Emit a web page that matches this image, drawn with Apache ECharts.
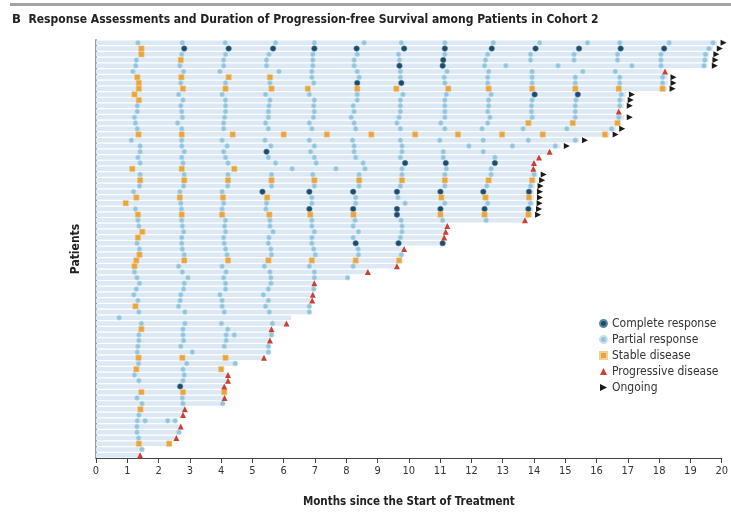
<!DOCTYPE html>
<html>
<head>
<meta charset="utf-8">
<script src="https://cdn.jsdelivr.net/npm/echarts@6/dist/echarts.min.js"></script>
<style>
html,body{margin:0;padding:0;background:#fff;overflow:hidden;}
#chart{width:731px;height:513px;}
</style>
</head>
<body>
<div id="chart"></div>
<script>
// ---------- DATA ----------
const xTicks = [0,1,2,3,4,5,6,7,8,9,10,11,12,13,14,15,16,17,18,19,20];
const patients = Array.from({length:73}, (_, i) => 'P' + (i + 1));

// duration of progression-free survival (months), one per patient, top to bottom
const barEnd = [19.85,19.72,19.6,19.58,19.55,18.19,18.28,18.28,18.25,16.95,
  16.9,16.88,16.71,16.88,16.72,16.62,16.42,15.45,14.85,14.5,
  14.16,14.0,13.98,14.12,14.08,14.03,14.0,14.0,14.0,13.98,
  13.95,13.71,11.23,11.18,11.13,11.1,9.85,9.78,9.72,9.62,
  8.69,8.04,6.98,6.98,6.93,6.91,6.84,6.84,6.24,6.09,
  5.61,5.61,5.56,5.53,5.53,5.37,4.45,4.02,4.22,4.22,
  4.10,4.12,4.11,4.07,2.84,2.78,2.54,2.71,2.68,2.57,
  2.36,1.49,1.41];

// [patient row, [months of assessment]]
const completeResponse = [
  [1,[2.82,4.24,5.66,6.98,8.33,9.85,11.15,12.65,14.05,15.44,16.77,18.16]],
  [3,[11.10]],[4,[9.70,11.08]],[7,[8.35,9.76]],[9,[14.02,15.40]],[19,[5.45]],
  [21,[9.88,11.18,12.75]],[26,[5.32,6.82,8.22,9.62,11.01,12.38,13.84]],
  [29,[6.82,8.22,9.62,11.01,12.42,13.82]],[30,[9.62]],[35,[8.30,9.67,11.08]],[60,[2.69]]
];
const partialResponse = [
  [0,[1.34,2.76,4.13,5.74,6.98,8.57,9.76,11.15,12.70,14.18,15.71,16.74,18.32,19.72]],
  [1,[19.59]],
  [2,[2.74,4.14,5.53,6.93,8.35,9.67,11.15,12.52,13.89,15.28,16.67,18.06,19.48]],
  [3,[1.29,4.08,5.45,6.93,8.25,9.70,12.45,13.89,15.28,16.67,18.06,19.46]],
  [4,[1.27,2.68,4.08,5.45,6.93,8.25,12.42,13.10,14.77,17.13,18.06,19.43]],
  [5,[1.18,2.80,3.96,5.85,6.90,8.35,9.73,11.22,12.55,13.94,15.56,16.60]],
  [6,[6.90,8.41,9.73,11.13,12.52,13.94,15.32,16.74,18.11]],
  [7,[2.71,4.14,5.56,6.96,11.15,12.52,13.94,15.32,16.74,18.11]],
  [9,[2.64,4.03,5.42,6.82,8.35,9.81,11.20,12.63,16.79]],
  [10,[2.78,4.14,5.56,6.98,8.35,9.73,11.15,12.55,13.94,15.34,16.74]],
  [11,[1.32,2.71,4.14,5.53,6.96,8.22,9.73,11.15,12.55,13.92,15.32,16.74]],
  [12,[1.32,2.74,4.14,5.51,6.98,8.25,9.73,11.15,12.52,13.92,15.32]],
  [13,[1.23,2.76,4.11,5.51,6.95,8.16,9.69,11.15,12.59,13.94,15.32,16.71]],
  [14,[1.26,2.61,4.08,5.42,6.82,8.25,9.62,11.02,12.52]],
  [15,[1.32,2.74,4.08,5.51,6.90,8.30,9.73,11.15,12.34,13.65,15.05,16.48]],
  [17,[1.13,2.74,4.03,5.40,6.82,8.20,9.73,10.99,12.38,13.82,15.32]],
  [18,[1.41,2.74,4.19,5.59,6.98,8.25,9.78,11.92,13.31,14.68]],
  [19,[1.41,2.82,4.08,6.86,8.25,9.78,11.10,12.38]],
  [20,[1.34,2.74,4.14,5.51,6.98,8.30,9.73,11.10,12.75]],
  [21,[1.41,2.78,4.22,5.74,7.04,8.54]],
  [22,[6.27,7.67,8.60,9.78,11.20,12.63]],
  [23,[1.41,2.82,4.22,5.61,6.93,8.41,9.78,11.15,12.63,14.00]],
  [25,[1.39,2.80,4.21,5.61,6.98,8.41,9.73,11.15,12.49,13.89]],
  [26,[1.20,2.68,4.03]],
  [27,[6.90,8.30,9.65]],
  [28,[2.71,4.08,5.45,6.90,8.30,9.88,11.15,12.52,13.89]],
  [29,[1.26,2.73,4.03,5.43]],
  [31,[1.34,2.74,4.14,5.56,6.90,8.28,9.75,11.08,12.47]],
  [32,[1.37,2.76,4.11,5.56,6.90,8.22,9.78]],
  [33,[2.80,4.14,5.66,6.98,8.39,9.78]],
  [34,[2.74,4.08,5.53,6.90,8.22,9.73]],
  [35,[1.31,2.74,4.10,5.51,6.90]],
  [36,[1.39,2.76,4.14,5.59,6.96,8.38]],
  [37,[2.82,4.19,5.61,7.01,8.39,9.76]],
  [39,[2.64,4.03,5.38,6.82,8.22]],
  [40,[1.23,2.76,4.16,5.56,6.98]],
  [41,[1.31,2.94,4.08,5.59,6.98,8.04]],
  [42,[1.39,2.82,4.14,5.59]],
  [43,[1.29,2.80,4.14,5.51,6.96]],
  [44,[1.21,2.71,3.96,5.35]],
  [45,[1.34,2.69,4.03,5.51]],
  [46,[2.64,4.03,5.42,6.82]],
  [47,[1.37,2.84,4.10,5.54,6.82]],
  [48,[0.74]],
  [49,[1.45,2.84,4.01,5.64]],
  [50,[2.78,4.21]],
  [51,[1.37,2.78,4.16,4.42,5.61]],
  [52,[1.37,2.80,4.16]],
  [53,[1.34,2.71,4.10,5.51]],
  [54,[1.32,3.08,5.51]],
  [56,[1.36,2.90,4.45]],
  [57,[2.78]],
  [58,[1.23,2.82]],
  [59,[1.37,2.78]],
  [62,[1.31,2.76]],
  [63,[1.47,2.78,4.05]],
  [65,[1.37]],
  [66,[1.32,1.57,2.29,2.53]],
  [67,[1.31]],
  [68,[1.31,2.65]],
  [69,[1.36]],
  [71,[1.47]]
];
const stableDisease = [
  [1,[1.45]],[2,[1.45]],[3,[2.71]],[6,[1.32,2.73,4.24,5.56]],[7,[1.37]],
  [8,[1.37,2.78,4.14,5.61,6.77,8.35,9.60,11.26,12.55,13.94,15.32,16.71,18.11]],
  [9,[1.23]],[10,[1.37]],[14,[13.82,15.24,16.67]],
  [16,[1.36,2.74,4.37,6.00,7.38,8.80,10.20,11.57,12.98,14.28,16.27]],
  [22,[1.16,2.74,4.42]],
  [24,[1.41,2.82,4.22,5.61,6.98,8.41,9.78,11.15,12.55,13.94]],
  [27,[1.29,2.68,4.06,5.47,11.04,12.45,13.84]],
  [28,[0.95]],
  [30,[1.34,2.74,4.03,5.54,6.85,8.23,11.01,12.42,13.82]],
  [33,[1.48]],[34,[1.34]],[37,[1.39]],
  [38,[1.29,2.82,4.22,5.51,6.90,8.30,9.69]],
  [39,[1.23]],[46,[1.26]],[50,[1.45]],[55,[1.36,2.76,4.14]],[57,[1.29,4.00]],
  [61,[1.45,2.78,4.10]],[64,[1.42]],[70,[1.37,2.34]]
];
const progressiveDisease = [
  [5,[18.19]],[12,[16.71]],[19,[14.50]],[20,[14.16]],[21,[14.00]],[22,[13.98]],
  [31,[13.71]],[32,[11.23]],[33,[11.18]],[34,[11.13]],[36,[9.85]],[39,[9.62]],
  [40,[8.69]],[42,[6.98]],[44,[6.93]],[45,[6.91]],[49,[6.09]],[50,[5.61]],
  [52,[5.56]],[55,[5.37]],[58,[4.22]],[59,[4.22]],[60,[4.10]],[62,[4.11]],
  [64,[2.84]],[65,[2.78]],[67,[2.71]],[69,[2.57]],[72,[1.41]]
];
const ongoing = [
  [0,[20.06]],[1,[19.94]],[2,[19.83]],[3,[19.80]],[4,[19.78]],[6,[18.46]],
  [7,[18.46]],[8,[18.43]],[9,[17.13]],[10,[17.09]],[11,[17.06]],[13,[17.06]],
  [15,[16.82]],[16,[16.61]],[17,[15.63]],[18,[15.05]],[23,[14.31]],[24,[14.26]],
  [25,[14.21]],[26,[14.19]],[27,[14.19]],[28,[14.18]],[29,[14.16]],[30,[14.13]]
];

// ---------- CHART ----------
function pts(list) {
  const out = [];
  list.forEach(([row, months]) => months.forEach(m => out.push([m, row])));
  return out;
}
const FONT = '"Liberation Sans Narrow","DejaVu Sans Condensed","Liberation Sans",sans-serif';
const arrowPath = 'path://M0,0 L10,5 L0,10 Z';

const chart = echarts.init(document.getElementById('chart'), null, {renderer: 'canvas', width: 731, height: 513});
chart.setOption({
  animation: false,
  backgroundColor: '#ffffff',
  graphic: [
    {type: 'rect', shape: {x: 10, y: 3, width: 721, height: 3}, style: {fill: '#a3a3a3'}},
    {type: 'text', left: 12, top: 13, style: {
      text: '{b|B}  Response Assessments and Duration of Progression-free Survival among Patients in Cohort 2',
      fontFamily: FONT, fontSize: 12, fontWeight: 'bold', fill: '#222',
      rich: {b: {fontFamily: FONT, fontSize: 13, fontWeight: 'bold', fill: '#222'}}
    }}
  ],
  legend: {
    left: 594, top: 312, orient: 'vertical',
    itemWidth: 7, itemHeight: 7, itemGap: 3,
    textStyle: {fontFamily: FONT, fontSize: 12, color: '#333', lineHeight: 13},
    data: [
      {name: 'Complete response', icon: 'circle'},
      {name: 'Partial response', icon: 'circle'},
      {name: 'Stable disease', icon: 'rect'},
      {name: 'Progressive disease', icon: 'triangle'},
      {name: 'Ongoing', icon: arrowPath}
    ]
  },
  grid: {left: 96, width: 632, top: 40, height: 429, containLabel: false},
  xAxis: {
    type: 'value', min: 0, max: 20, interval: 1,
    name: 'Months since the Start of Treatment', nameLocation: 'middle', nameGap: 38,
    nameTextStyle: {fontFamily: FONT, fontSize: 11.5, fontWeight: 'bold', color: '#222'},
    axisLine: {show: true, lineStyle: {color: '#444', width: 1}},
    axisTick: {show: true, length: 5, lineStyle: {color: '#444'}},
    axisLabel: {fontFamily: FONT, fontSize: 11, color: '#333', margin: 8,
      formatter: v => xTicks.indexOf(v) >= 0 ? String(v) : ''},
    splitLine: {show: false}
  },
  yAxis: {
    type: 'category', data: patients, inverse: true,
    name: 'Patients', nameLocation: 'middle', nameGap: 14, nameRotate: 90,
    nameTextStyle: {fontFamily: FONT, fontSize: 12, fontWeight: 'bold', color: '#222'},
    axisLine: {show: true, lineStyle: {color: '#9a9a9a', width: 2}},
    axisTick: {show: false}, axisLabel: {show: false}, splitLine: {show: false}
  },
  series: [
    {type: 'bar', name: 'PFS', data: barEnd, barWidth: 4.5, silent: true,
      itemStyle: {color: '#dce9f5'}, z: 1},
    {type: 'scatter', name: 'Partial response', data: pts(partialResponse), symbol: 'circle', symbolSize: 5,
      itemStyle: {color: '#92c4dc', borderColor: '#c4e0ee', borderWidth: 0.6, opacity: 1}, clip: false, z: 3},
    {type: 'scatter', name: 'Complete response', data: pts(completeResponse), symbol: 'circle', symbolSize: 5.5,
      itemStyle: {color: '#1c4c6b', borderColor: '#5b87a3', borderWidth: 0.6, opacity: 1}, clip: false, z: 4},
    {type: 'scatter', name: 'Stable disease', data: pts(stableDisease), symbol: 'rect', symbolSize: 5.5,
      itemStyle: {color: '#e8a53e', borderColor: '#f3cf93', borderWidth: 0.6, opacity: 1}, clip: false, z: 4},
    {type: 'scatter', name: 'Progressive disease', data: pts(progressiveDisease), symbol: 'triangle', symbolSize: 6,
      itemStyle: {color: '#cc3f33', opacity: 1}, clip: false, z: 5},
    {type: 'scatter', name: 'Ongoing', data: pts(ongoing), symbol: arrowPath, symbolSize: 6,
      itemStyle: {color: '#1a1a1a', opacity: 1}, clip: false, z: 5}
  ]
});
</script>
</body>
</html>
